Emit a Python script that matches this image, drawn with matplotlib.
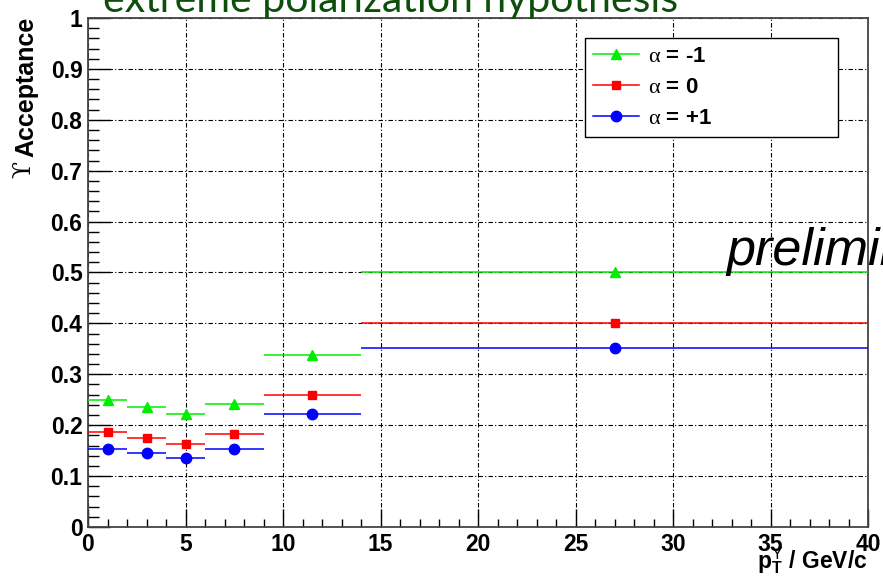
import matplotlib
matplotlib.use("Agg")
import matplotlib.pyplot as plt
from matplotlib.ticker import MultipleLocator, FixedLocator, FuncFormatter
import numpy as np

plt.rcParams['mathtext.fontset'] = 'custom'
plt.rcParams['mathtext.rm'] = 'Liberation Sans'
plt.rcParams['mathtext.it'] = 'Liberation Serif'
plt.rcParams['mathtext.bf'] = 'Liberation Sans:bold'

# ---- data ----
bin_low = [0, 2, 4, 6, 9, 14]
bin_high = [2, 4, 6, 9, 14, 40]
bin_center = [1, 3, 5, 7.5, 11.5, 27]
acc_minus1 = [0.249, 0.236, 0.222, 0.241, 0.338, 0.500]
acc_zero = [0.186, 0.175, 0.164, 0.182, 0.260, 0.400]
acc_plus1 = [0.154, 0.146, 0.136, 0.154, 0.222, 0.351]
series_labels = [r"$\alpha$ = -1", r"$\alpha$ = 0", r"$\alpha$ = +1"]
x_ticks = [0, 5, 10, 15, 20, 25, 30, 35, 40]
y_ticks = [0, 0.1, 0.2, 0.3, 0.4, 0.5, 0.6, 0.7, 0.8, 0.9, 1.0]

fig = plt.figure(figsize=(8.83, 5.79), dpi=100)
ax = fig.add_axes([88/883, 52/579, 780/883, 509/579])

xc = np.array(bin_center)
xerr = np.array([xc - np.array(bin_low), np.array(bin_high) - xc])

styles = [
    (acc_minus1, '#00ee00', '^', 7.5),
    (acc_zero, '#ff0000', 's', 6.0),
    (acc_plus1, '#0000ff', 'o', 7.5),
]
handles = []
for (vals, col, mk, ms), lab in zip(styles, series_labels):
    ax.errorbar(xc, vals, xerr=xerr, fmt='none', ecolor=col, elinewidth=1.1, capsize=0, zorder=3)
    ax.plot(xc, vals, linestyle='none', marker=mk, color=col, markersize=ms, zorder=4)
    h, = ax.plot([], [], color=col, marker=mk, markersize=ms, linewidth=1.1, label=lab)
    handles.append(h)

ax.set_xlim(0, 40)
ax.set_ylim(0, 1)
ax.xaxis.set_major_locator(FixedLocator(x_ticks))
ax.xaxis.set_minor_locator(MultipleLocator(1))
ax.yaxis.set_major_locator(FixedLocator(y_ticks))
ax.yaxis.set_minor_locator(MultipleLocator(0.02))
ax.yaxis.set_major_formatter(FuncFormatter(lambda v, p: ('%g' % round(v, 2))))
ax.xaxis.set_major_formatter(FuncFormatter(lambda v, p: ('%g' % v)))

ax.grid(True, which='major', color='black', linewidth=0.8, linestyle=(0, (4, 2, 1, 2)), zorder=1)
ax.set_axisbelow(True)

ax.tick_params(axis='x', which='major', direction='in', length=13, width=1, pad=4, top=False,
               labelsize=16.5)
ax.tick_params(axis='x', which='minor', direction='in', length=5.5, width=1, top=False)
ax.tick_params(axis='y', which='major', direction='in', length=16, width=1, pad=4, right=False,
               labelsize=16.5)
ax.tick_params(axis='y', which='minor', direction='in', length=8, width=1, right=False)
for lab in ax.get_xticklabels() + ax.get_yticklabels():
    lab.set_fontfamily('Liberation Sans')
    lab.set_fontweight('bold')
for s in ax.spines.values():
    s.set_color('#444444')
    s.set_linewidth(1.3)

leg = ax.legend(handles=handles, loc='upper left',
                bbox_to_anchor=(0.637, 0.754, 0.3245, 0.2067), mode='expand',
                prop={'family': 'Liberation Sans', 'weight': 'bold', 'size': 16},
                frameon=True, fancybox=False, edgecolor='black',
                framealpha=1, borderpad=0.35, labelspacing=0.45, handlelength=2.1,
                handletextpad=0.4, borderaxespad=0)
leg.get_frame().set_linewidth(1.0)
leg.set_zorder(10)

# y axis label: Upsilon symbol (thin serif) + bold "Acceptance"
fig.text(26/883, 1 - 157/579, "Acceptance", rotation=90, ha='center', va='bottom',
         fontsize=18, fontweight='bold', family='Liberation Sans')
fig.text(24/883, 1 - 161/579, "ϒ", rotation=90, ha='center', va='top',
         fontsize=18, family='DejaVu Serif')
# x axis label
fig.text(868/883, 1 - 568/579, r"$\mathbf{p}_{\mathbf{T}}^{\Upsilon}$" + " / GeV/c",
         ha='right', va='baseline', fontsize=16.5, fontweight='bold', family='Liberation Sans')

# title (partially cut by the top edge)
title = fig.text(103/883, 1 - 12/579, "extreme polarization hypothesis", ha='left',
                 va='baseline', fontsize=30, color='#0b4f0b', family='Lato')
fig.canvas.draw()
w = title.get_window_extent().width
title.set_fontsize(30 * 575 / w)

# "preliminary" text cut by the right edge
fig.text(726/883, 1 - 265/579, "preliminary", ha='left', va='baseline', fontsize=37.5,
         style='italic', family='Liberation Sans', color='black', zorder=20)

fig.savefig("out.png", dpi=100)
